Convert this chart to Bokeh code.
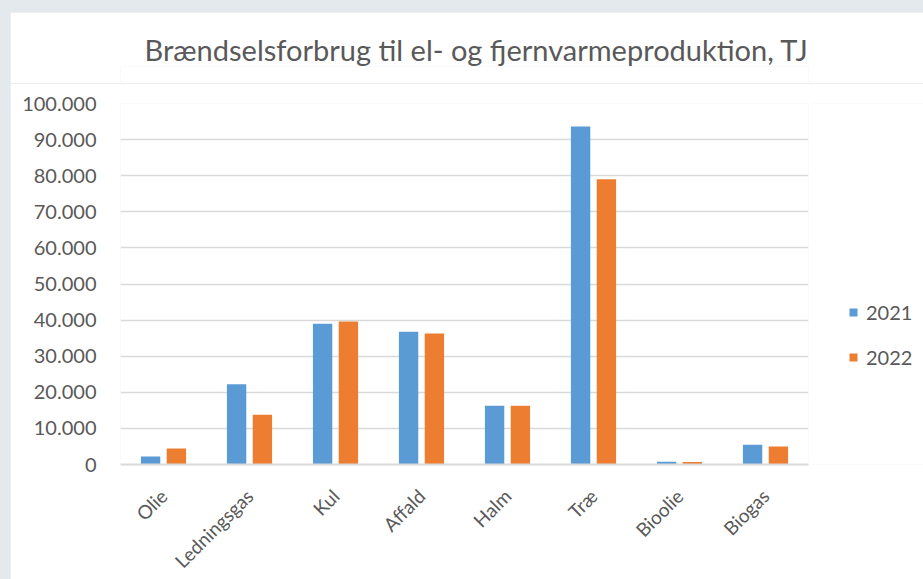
from bokeh.plotting import figure
from bokeh.models import FixedTicker, Legend, LegendItem, ColumnDataSource, Title
from bokeh.transform import dodge
from bokeh.layouts import column, row
from bokeh.embed import file_html
from bokeh.resources import INLINE

categories = ["Olie", "Ledningsgas", "Kul", "Affald", "Halm", "Træ", "Bioolie", "Biogas"]
series_2021 = [2200, 22200, 39000, 36800, 16300, 93600, 750, 5500]
series_2022 = [4400, 13800, 39600, 36300, 16300, 79000, 700, 5000]
series_names = ["2021", "2022"]
y_ticks = [0, 10000, 20000, 30000, 40000, 50000, 60000, 70000, 80000, 90000, 100000]
title_text = "Brændselsforbrug til el- og fjernvarmeproduktion, TJ"

FONT = "Lato"
TXT = "#595959"
GRID = "#d9d9d9"
BLUE = "#5b9bd5"
ORANGE = "#ed7d31"

src = ColumnDataSource(dict(cat=categories, y21=series_2021, y22=series_2022))

# --- title strip ---
pt = figure(x_range=categories, y_range=(0, 1), width=913, height=71,
            output_backend="svg", toolbar_location=None, title=None,
            x_axis_location=None, y_axis_location=None,
            min_border_left=110, min_border_right=115, min_border_top=54, min_border_bottom=0,
            margin=(20, 0, 0, 18))
pt.border_fill_color = "white"
pt.background_fill_color = "white"
pt.outline_line_color = None
pt.grid.grid_line_color = None
t = Title(text=title_text, align="left", offset=24, text_font=FONT, text_font_size="29px",
          text_color=TXT, text_font_style="normal", standoff=0)
pt.add_layout(t, "above")

# --- main chart ---
p = figure(x_range=categories, y_range=(0, 100000), width=803, height=501,
           output_backend="svg", toolbar_location=None, title=None,
           min_border_left=110, min_border_right=5, min_border_top=20, min_border_bottom=120,
           margin=(0, 0, 0, 18))
p.border_fill_color = "white"
p.background_fill_color = "white"
p.outline_line_color = None

r21 = p.vbar(x=dodge("cat", -0.15, range=p.x_range), top="y21", width=0.225, source=src,
             color=BLUE, line_color=None)
r22 = p.vbar(x=dodge("cat", 0.15, range=p.x_range), top="y22", width=0.225, source=src,
             color=ORANGE, line_color=None)

p.yaxis.ticker = FixedTicker(ticks=y_ticks)
p.yaxis.major_label_overrides = {v: f"{v:,}".replace(",", ".") for v in y_ticks}
p.yaxis.axis_line_color = None
p.yaxis.major_tick_line_color = None
p.yaxis.minor_tick_line_color = None
p.yaxis.major_label_standoff = 18
p.yaxis.major_label_text_font = FONT
p.yaxis.major_label_text_font_size = "20px"
p.yaxis.major_label_text_color = TXT

p.xaxis.axis_line_color = GRID
p.xaxis.axis_line_width = 2
p.xaxis.major_tick_line_color = None
p.xaxis.minor_tick_line_color = None
p.xaxis.major_label_orientation = 0.785398
p.xaxis.major_label_standoff = 22
p.xaxis.major_label_text_font = FONT
p.xaxis.major_label_text_font_size = "19px"
p.xaxis.major_label_text_color = TXT

p.xgrid.grid_line_color = None
p.ygrid.grid_line_color = GRID
p.ygrid.grid_line_width = 1.5
p.ygrid.ticker = FixedTicker(ticks=y_ticks)
p.x_range.range_padding = 0

# --- legend panel ---
pl = figure(x_range=categories, y_range=(0, 100000), width=111, height=501,
            output_backend="svg", toolbar_location=None,
            x_axis_location=None, y_axis_location=None,
            min_border_left=0, min_border_right=0, min_border_top=20, min_border_bottom=120,
            margin=(0, 0, 0, -1))
pl.border_fill_color = "white"
pl.background_fill_color = "white"
pl.outline_line_color = None
pl.grid.grid_line_color = None
l21 = pl.vbar(x="cat", top="y21", width=0.2, source=src, color=BLUE, line_color=None, visible=False)
l22 = pl.vbar(x="cat", top="y22", width=0.2, source=src, color=ORANGE, line_color=None, visible=False)

legend = Legend(items=[LegendItem(label=series_names[0], renderers=[l21]),
                       LegendItem(label=series_names[1], renderers=[l22])],
                location=(36, 95), orientation="vertical",
                glyph_width=10, glyph_height=10, label_height=20, spacing=21,
                label_standoff=8, padding=0, margin=0,
                border_line_alpha=0, background_fill_alpha=0, inactive_fill_alpha=0,
                label_text_font=FONT, label_text_font_size="20px", label_text_color=TXT)
pl.add_layout(legend)

layout = column(pt, row(p, pl), width=931, height=587, margin=(-8, -8, -8, -8),
                styles={"background-color": "#e4e9ee", "overflow": "hidden"})

open("out.html", "w").write(file_html(layout, INLINE))
